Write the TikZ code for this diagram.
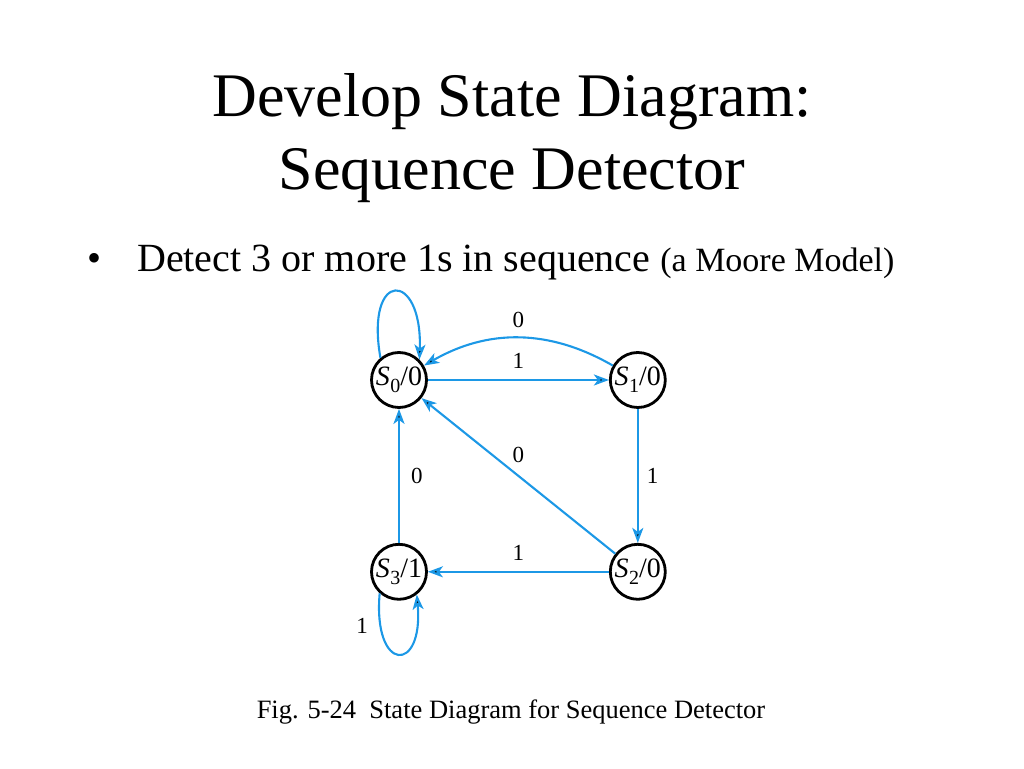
\documentclass[tikz,border=0pt]{standalone}
\usepackage{fontspec}
\setmainfont{Liberation Serif}
\usetikzlibrary{
  arrows.meta,
  positioning,  % Function "of" (e.g. [right=of x])
}
\definecolor{edgeblue}{RGB}{28,152,230}
% State label: S_i / output
\newcommand{\st}[2]{\textit{S}\/\kern0.02em\raisebox{-0.25em}{\fontsize{20}{20}\selectfont #1}/#2}
\tikzset{
  x=1pt,
  y=1pt,
  my title/.style={
    anchor=base,
    inner sep=0pt,
    font=\fontsize{62}{62}\selectfont
  },
  my text/.style={
    anchor=base west,
    inner sep=0pt,
    font=\fontsize{40}{40}\selectfont
  },
  my state/.style={
    draw,
    circle,
    line width=2.8pt,
    minimum size=55pt,
    inner sep=0pt,
    font=\fontsize{28}{28}\selectfont
  },
  my edge/.style={
    draw=edgeblue,
    line width=2.1pt,
    -{Stealth[length=15pt,width=11pt,inset=4pt]}
  },
  my label/.style={
    inner sep=3pt,
    font=\fontsize{23}{23}\selectfont
  },
  my loop above/.style={
    to path={(\tikztostart.130) .. controls +(100:90) and +(88:90) .. (\tikztotarget.45)}
  },
  my loop below/.style={
    to path={(\tikztostart.228) .. controls +(265:80) and +(275:80) .. (\tikztotarget.308)}
  }
}
\begin{document}
\begin{tikzpicture}
\useasboundingbox (0,0) rectangle (1024,768);
% heading and bullet
\node[my title] (title1) at (512,651) {Develop State Diagram:};
\node[my title] (title2) at (512,578) {Sequence Detector};
\node[my text,anchor=base] (bullet) at (95,496) {\textbullet};
\node[my text] (item) at (137,496)
  {Detect 3 or more 1s in sequence {\fontsize{34}{34}\selectfont (a Moore Model)}};
% states
\node[my state]                    (S0) at (399,388) {\st00};
\node[my state,right=181pt of S0]  (S1)              {\st10};
\node[my state,below=134pt of S1]  (S2)              {\st20};
\node[my state,left=181pt of S2]   (S3)              {\st31};
% transitions
\path[my edge]
  (S0) edge                 node[my label,above=7pt]  {1} (S1)
  (S1) edge[bend right=30]  node[my label,above=6pt]  {0} (S0)
  (S1) edge                 node[my label,right=5pt]  {1} (S2)
  (S2) edge                 node[my label,above=9pt]  {0} (S0)
  (S2) edge                 node[my label,above=7pt]  {1} (S3)
  (S3) edge                 node[my label,right=8pt]  {0} (S0)
  (S0) edge[my loop above]  (S0)
  (S3) edge[my loop below]  (S3);
\node[my label] (loop1) at (362,142) {1};
% caption
\node[anchor=base,inner sep=0pt,font=\fontsize{26.5}{26.5}\selectfont] (caption) at (511,50)
  {Fig. 5-24\ \ State Diagram for Sequence Detector};
\end{tikzpicture}
\end{document}
